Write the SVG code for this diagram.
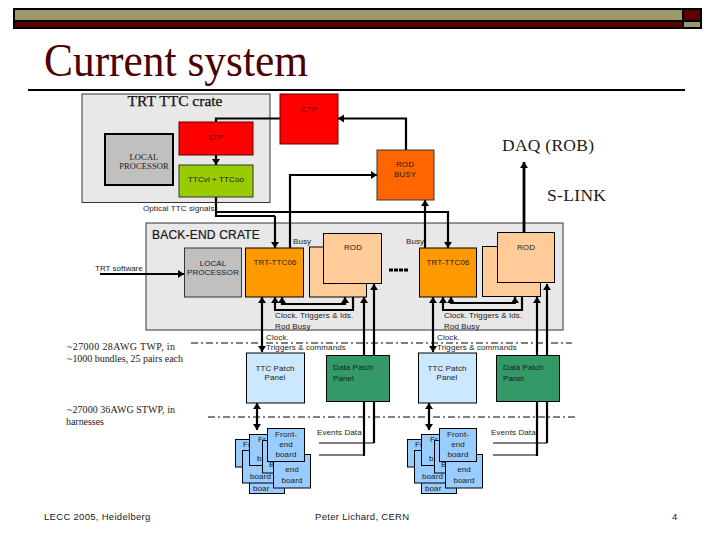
<svg xmlns="http://www.w3.org/2000/svg" width="720" height="540" viewBox="0 0 720 540">
<style>
text{font-family:"Liberation Sans",Arial,sans-serif;font-size:8px;fill:#1a1a1a;letter-spacing:.1px}
.s{font-family:"Liberation Serif","Times New Roman",serif}
.m{text-anchor:middle}
.w{fill:#600000}
.k{fill:none;stroke:#000;stroke-width:2.200}
.a{marker-end:url(#h)}
.d{marker-start:url(#h);marker-end:url(#h)}
.u{marker-start:url(#h)}
.t{fill:#99ccff;stroke:#000;stroke-width:1}
.o{fill:#ffcc99;stroke:#000;stroke-width:1}
.c{fill:#ff9900;stroke:#000;stroke-width:1}
.p{fill:#cce8ff;stroke:#000;stroke-width:1}
.g{fill:#339966;stroke:#000;stroke-width:1}
.q{fill:none;stroke:#000;stroke-width:1;stroke-dasharray:7 3 2 3}
.l{font-size:10px;letter-spacing:0}
</style>
<defs><marker id="h" markerUnits="userSpaceOnUse" markerWidth="9" markerHeight="9" refX="6" refY="4" orient="auto-start-reverse"><path d="M0 0L6 4L0 8Z" fill="#000"/></marker></defs>
<rect width="720" height="540" fill="#fff"/>
<g id="header">
<rect x="13" y="8" width="689" height="21" fill="#000"/>
<rect x="15" y="10" width="667" height="10" fill="#99996b"/>
<rect x="15" y="22" width="667" height="5" fill="#5c0000"/>
<rect x="684" y="10" width="16" height="10" fill="#5c0000"/>
<rect x="684" y="22" width="16" height="5" fill="#99996b"/>
<text class="s" x="44" y="76" textLength="264" lengthAdjust="spacingAndGlyphs" style="font-size:46.500px;fill:#4d0000;letter-spacing:0">Current system</text>
<rect x="28" y="89" width="657" height="2" fill="#000"/>
</g>
<g id="trt-crate"><rect x="82" y="94" width="188" height="108.500" fill="#e8e8e8" stroke="#333"/><text class="s m" x="175" y="106" style="font-size:15.500px;letter-spacing:0;stroke:#000;stroke-width:.25">TRT TTC crate</text></g>
<g id="backend-crate"><rect x="146" y="223" width="417" height="107" fill="#e8e8e8" stroke="#333"/><text x="152" y="239" style="font-size:12px;letter-spacing:.2px;stroke:#000;stroke-width:.2">BACK-END CRATE</text></g>
<g id="connectors">
<path class="k" d="M280 118.500H216V122"/>
<path class="k a" d="M406 150V118.500H338"/>
<path class="k a" d="M216 155V165"/>
<path class="k a" d="M290 248V175H377"/>
<path class="k" d="M216 197V216H275"/>
<path class="k a" d="M275 216V248"/>
<path class="k a" d="M216 212H448V248"/>
<path class="k a" d="M425 248V200"/>
<path d="M524 232V162" fill="none" stroke="#000" stroke-width="2.800" marker-end="url(#h)"/>
<path class="k a" d="M100 274H184"/>
<path class="k d" d="M262 297V352"/>
<path class="k d" d="M257 403V430"/>
<path class="k d" d="M275 297V310H353V284"/>
<path class="k d" d="M282 297V304H345V297"/>
<path class="k a" d="M364 456V297"/>
<path class="k a" d="M374 443V284"/>
<path d="M319 443H374M319 455H364" stroke="#000" fill="none"/>
<path class="k d" d="M433 297V352"/>
<path class="k d" d="M429 403V430"/>
<path class="k d" d="M443 297V310H522V284"/>
<path class="k d" d="M451 297V303H515V297"/>
<path class="k a" d="M537 456V297"/>
<path class="k a" d="M547 443V284"/>
<path d="M493 443H547M493 455H537" stroke="#000" fill="none"/>
<path class="q" d="M191 343H572"/>
<path class="q" d="M208 417H578"/>
<path d="M389 270H408" stroke="#000" stroke-width="3" stroke-dasharray="4 1"/>
</g>
<g id="ctp"><rect x="280" y="94" width="58" height="50" fill="#ff0000" stroke="#600"/><text class="m w" x="309" y="112">CTP</text></g>
<g id="ltp"><rect x="179" y="122" width="74" height="33" fill="#ff0000" stroke="#600"/><text class="m w" x="216" y="140">LTP</text></g>
<g id="local-processor-1"><rect x="105" y="134" width="68" height="51" fill="#c0c0c0" stroke="#000" stroke-width="2"/><text class="s m" x="144" y="160" style="font-size:8.500px">LOCAL</text><text class="s m" x="144" y="169" style="font-size:8.500px">PROCESSOR</text></g>
<g id="ttcvi"><rect x="179" y="165" width="74" height="32" fill="#99cc00" stroke="#333"/><text class="m" x="216" y="182">TTCvi + TTCoo</text></g>
<g id="rod-busy"><rect x="377" y="150" width="57" height="50" fill="#ff6600" stroke="#333"/><text class="m" x="405" y="167">ROD</text><text class="m" x="405" y="177">BUSY</text></g>
<g id="local-processor-2"><rect x="184.500" y="248" width="57" height="49" fill="#c0c0c0" stroke="#333"/><text class="m" x="213" y="266">LOCAL</text><text class="m" x="213" y="275">PROCESSOR</text></g>
<g id="ttc06-a"><rect class="c" x="245.500" y="248" width="58" height="49"/><text class="m" x="275" y="265">TRT-TTC06</text></g>
<g id="rod-a"><rect class="o" x="309.500" y="247" width="57" height="50"/><rect class="o" x="323.500" y="233.500" width="58" height="50"/><text class="m" x="353" y="250">ROD</text></g>
<g id="ttc06-b"><rect class="c" x="419.500" y="248" width="57" height="49"/><text class="m" x="448" y="265">TRT-TTC06</text></g>
<g id="rod-b"><rect class="o" x="482.500" y="246.500" width="58" height="50"/><rect class="o" x="497.500" y="232.500" width="57" height="50"/><text class="m" x="526" y="250">ROD</text></g>
<g id="ttc-panel-a"><rect class="p" x="246.500" y="353" width="58" height="50"/><text class="m" x="275" y="371">TTC Patch</text><text class="m" x="275" y="380">Panel</text></g>
<g id="data-panel-a"><rect class="g" x="326.500" y="355.500" width="63" height="46"/><text x="333" y="370">Data Patch</text><text x="333" y="381">Panel</text></g>
<g id="ttc-panel-b"><rect class="p" x="418.500" y="353" width="58" height="50"/><text class="m" x="447" y="371">TTC Patch</text><text class="m" x="447" y="380">Panel</text></g>
<g id="data-panel-b"><rect class="g" x="496.500" y="355.500" width="63" height="46"/><text x="503" y="370">Data Patch</text><text x="503" y="381">Panel</text></g>
<g id="boards-a">
<rect class="t" x="249.500" y="456.500" width="35" height="37"/><text x="253" y="491">boar</text>
<rect class="t" x="235.500" y="439.500" width="37" height="27.500"/><text x="243" y="447">Fr</text>
<rect class="t" x="242.500" y="450.500" width="37" height="32.500"/><text x="250" y="479">board</text>
<rect class="t" x="249.500" y="434.500" width="37" height="31"/><text x="258" y="442">Fr</text><text x="257" y="461">b</text>
<rect class="t" x="262.500" y="440.500" width="30" height="32.500"/><text x="269" y="467">B</text>
<rect class="t" x="273.500" y="454.500" width="37" height="33.500"/><text class="m" x="292" y="472">end</text><text class="m" x="292" y="483">board</text>
<rect class="t" x="267.500" y="428.500" width="37" height="33"/><text class="m" x="286" y="437">Front-</text><text class="m" x="286" y="447">end</text><text class="m" x="286" y="457">board</text>
</g>
<g id="boards-b" transform="translate(172 0)">
<rect class="t" x="249.500" y="456.500" width="35" height="37"/><text x="253" y="491">boar</text>
<rect class="t" x="235.500" y="439.500" width="37" height="27.500"/><text x="243" y="447">Fr</text>
<rect class="t" x="242.500" y="450.500" width="37" height="32.500"/><text x="250" y="479">board</text>
<rect class="t" x="249.500" y="434.500" width="37" height="31"/><text x="258" y="442">Fr</text><text x="257" y="461">b</text>
<rect class="t" x="262.500" y="440.500" width="30" height="32.500"/><text x="269" y="467">B</text>
<rect class="t" x="273.500" y="454.500" width="37" height="33.500"/><text class="m" x="292" y="472">end</text><text class="m" x="292" y="483">board</text>
<rect class="t" x="267.500" y="428.500" width="37" height="33"/><text class="m" x="286" y="437">Front-</text><text class="m" x="286" y="447">end</text><text class="m" x="286" y="457">board</text>
</g>
<g id="labels">
<text class="s" x="502" y="151" textLength="92" style="font-size:17.500px;letter-spacing:0">DAQ (ROB)</text>
<text class="s" x="547" y="201" textLength="59" style="font-size:17.500px;letter-spacing:0">S-LINK</text>
<text x="143" y="211">Optical TTC signals</text>
<text x="293" y="244">Busy</text>
<text x="406" y="244">Busy</text>
<text x="95" y="271" style="letter-spacing:0">TRT software</text>
<text x="275" y="318">Clock. Triggers &amp; Ids.</text><text x="275" y="329">Rod Busy</text>
<text x="266" y="340">Clock.</text><text x="266" y="350">Triggers &amp; commands</text>
<text x="444" y="318">Clock. Triggers &amp; Ids.</text><text x="444" y="329">Rod Busy</text>
<text x="437" y="340">Clock.</text><text x="437" y="350">Triggers &amp; commands</text>
<text x="317" y="435">Events Data</text><text x="491" y="435">Events Data</text>
<text class="s l" x="67" y="350" textLength="108">~27000 28AWG TWP, in</text>
<text class="s l" x="67" y="362" textLength="116">~1000 bundles, 25 pairs each</text>
<text class="s l" x="67" y="413" textLength="108">~27000 36AWG STWP, in</text>
<text class="s l" x="66" y="425" textLength="38">harnesses</text>
<text x="44" y="520" style="font-size:9.500px;letter-spacing:.3px">LECC 2005, Heidelberg</text>
<text x="315" y="520" style="font-size:9.500px;letter-spacing:.3px">Peter Lichard, CERN</text>
<text x="672" y="520" style="font-size:9.500px">4</text>
</g>
</svg>
